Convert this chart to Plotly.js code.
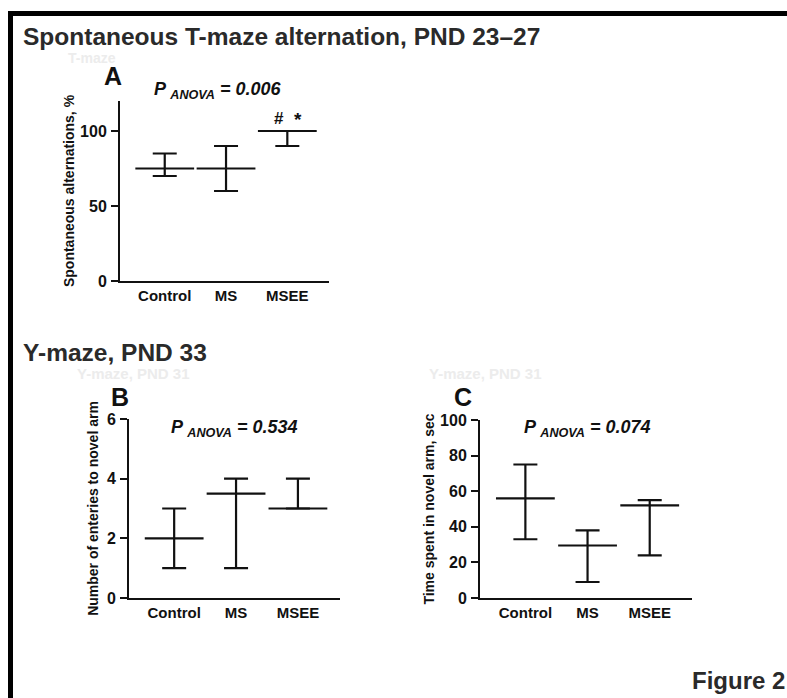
<!DOCTYPE html>
<html>
<head>
<meta charset="utf-8">
<script src="https://cdn.plot.ly/plotly-3.0.1.min.js"></script>
<style>html,body{margin:0;padding:0;background:#fff;}#chart{width:787px;height:698px;}</style>
</head>
<body>
<div id="chart"></div>
<script>
// ---- data ----
const groups = ['Control', 'MS', 'MSEE'];

// Panel A: Spontaneous alternations, %
const altMid = [75, 75, 100];
const altHigh = [85, 90, 100];
const altLow = [70, 60, 90];

// Panel B: Number of entries to novel arm
const entMid = [2, 3.5, 3];
const entHigh = [3, 4, 4];
const entLow = [1, 1, 3];

// Panel C: Time spent in novel arm, sec
const timeMid = [56, 29.5, 52];
const timeHigh = [75, 38, 55];
const timeLow = [33, 9, 24];

const yTicksA = [0, 50, 100];
const yTicksB = [0, 2, 4, 6];
const yTicksC = [0, 20, 40, 60, 80, 100];

// ---- helpers ----
const W = 787, H = 698;
const px = v => v / W;
const py = v => 1 - v / H;
const INK = '#111111';
const FONT = 'Liberation Sans, Arial, sans-serif';

function trace(mid, hi, lo, xa, ya) {
  return {
    type: 'scatter', mode: 'markers',
    x: groups, y: mid, xaxis: xa, yaxis: ya,
    marker: {symbol: 'line-ew-open', size: 42, color: INK, line: {width: 2.2, color: INK}},
    error_y: {type: 'data', symmetric: false,
      array: hi.map((h, i) => h - mid[i]),
      arrayminus: lo.map((l, i) => mid[i] - l),
      width: 12, thickness: 2.2, color: INK},
    hoverinfo: 'x+y', showlegend: false
  };
}

function xax(d0, d1, anchor) {
  return {domain: [px(d0), px(d1)], anchor: anchor, type: 'category', range: [-0.73, 2.68],
    showline: true, linewidth: 2, linecolor: INK, ticks: '', showgrid: false, zeroline: false,
    tickfont: {family: FONT, size: 15, color: INK, weight: 'bold'}, fixedrange: true};
}
function yax(top, bot, anchor, range, vals, title, standoff) {
  return {domain: [py(bot), py(top)], anchor: anchor, range: range, tickvals: vals,
    showline: true, linewidth: 2, linecolor: INK, ticks: 'outside', ticklen: 7, tickwidth: 2, tickcolor: INK,
    showgrid: false, zeroline: false, ticklabelstandoff: 1,
    tickfont: {family: FONT, size: 16, color: INK, weight: 'bold'},
    title: {text: title, standoff: standoff, font: {family: FONT, size: 14, color: INK, weight: 'bold'}},
    fixedrange: true};
}

const data = [
  trace(altMid, altHigh, altLow, 'x', 'y'),
  trace(entMid, entHigh, entLow, 'x2', 'y2'),
  trace(timeMid, timeHigh, timeLow, 'x3', 'y3')
];

function ann(text, x, y, size, opts) {
  return Object.assign({text: text, xref: 'paper', yref: 'paper', x: px(x), y: py(y),
    xanchor: 'left', yanchor: 'middle', showarrow: false,
    font: {family: FONT, size: size, color: INK, weight: 'bold'}}, opts || {});
}
const HEAD = {family: FONT, size: 24.5, color: '#2a2a2a', weight: 'bold'};
const GHOST = {family: FONT, size: 15, color: '#ececec', weight: 'bold'};

const layout = {
  width: W, height: H, margin: {l: 0, r: 0, t: 0, b: 0},
  paper_bgcolor: '#fff', plot_bgcolor: 'rgba(0,0,0,0)',
  xaxis: xax(120, 329, 'y'),
  yaxis: yax(101, 281, 'x', [0, 120], yTicksA, 'Spontaneous alternations, %', 2),
  xaxis2: xax(129, 340, 'y2'),
  yaxis2: yax(419, 598, 'x2', [0, 6], yTicksB, 'Number of enteries to novel arm', 5),
  xaxis3: xax(480, 692, 'y3'),
  yaxis3: yax(420, 598, 'x3', [0, 100], yTicksC, 'Time spent in novel arm, sec', 2),
  shapes: [
    {type: 'rect', xref: 'paper', yref: 'paper', x0: px(8), x1: 1, y0: py(16), y1: py(11), fillcolor: '#000', line: {width: 0}},
    {type: 'rect', xref: 'paper', yref: 'paper', x0: px(8), x1: px(13), y0: 0, y1: py(11), fillcolor: '#000', line: {width: 0}}
  ],
  annotations: [
    ann('Spontaneous T-maze alternation, PND 23\u201327', 21, 36, 24.5, {font: HEAD}),
    ann('T-maze', 66, 58, 14, {font: Object.assign({}, GHOST, {size: 14})}),
    ann('A', 102, 76, 25),
    ann('<i>P <sub>ANOVA</sub> = 0.006</i>', 152, 91, 18),
    ann('#', 272, 118, 17),
    ann('*', 292, 120, 19),
    ann('Y-maze, PND 33', 21, 352, 24.5, {font: HEAD}),
    ann('Y-maze, PND 31', 75, 373, 15, {font: GHOST}),
    ann('Y-maze, PND 31', 427, 373, 15, {font: GHOST}),
    ann('B', 109, 397, 25),
    ann('<i>P <sub>ANOVA</sub> = 0.534</i>', 169, 428, 18),
    ann('C', 452, 397, 25),
    ann('<i>P <sub>ANOVA</sub> = 0.074</i>', 522, 428, 18),
    ann('Figure 2', 690, 680, 24, {font: Object.assign({}, HEAD, {size: 24})})
  ]
};

Plotly.newPlot('chart', data, layout, {displayModeBar: false, staticPlot: true});
</script>
</body>
</html>
